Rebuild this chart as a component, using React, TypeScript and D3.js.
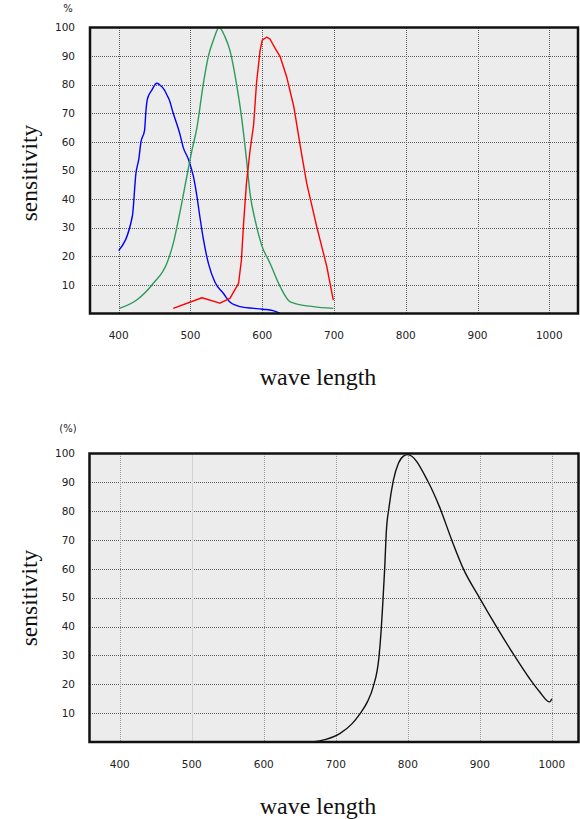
import React from 'react';
import * as d3 from 'd3';

// tick labels
const xTicks = [400, 500, 600, 700, 800, 900, 1000];
const yTicks = [10, 20, 30, 40, 50, 60, 70, 80, 90, 100];

// top chart: blue / green / red sensitivity (wavelength nm, %)
const blueWl = [400, 419, 424, 428, 431, 436, 438, 440, 446, 453, 457, 464, 467, 470, 476, 485, 490, 497, 504, 509, 513, 518, 525, 534, 546, 555, 569, 601, 615, 625];
const blueVal = [22, 34, 49, 54, 60, 64, 71, 75, 78, 80.5, 80, 78, 76.5, 75, 70, 63, 58, 54, 48, 41, 34, 26, 17.5, 11, 7, 4, 2.4, 1.5, 1, 0];

const greenWl = [401, 425, 448, 467, 476, 485, 495, 502, 509, 518, 525, 532, 540, 548, 555, 564, 571, 578, 583, 590, 599, 611, 625, 639, 671, 699];
const greenVal = [1.8, 4.7, 10.5, 17.5, 24.5, 35, 48, 57, 65, 80.5, 90, 95.6, 100, 96.8, 92, 80.5, 69, 54, 42, 32.7, 24, 17.5, 9.4, 4.1, 2.4, 1.8];

const redWl = [476, 516, 541, 555, 567, 571, 574, 578, 583, 588, 592, 597, 600, 606, 611, 618, 625, 634, 644, 654, 662, 676, 690, 699];
const redVal = [1.8, 5.5, 3.6, 5.3, 10.5, 18.7, 31.5, 45.5, 57, 66, 80.5, 92, 95.6, 96.6, 95.9, 92.7, 89.8, 82.8, 72.3, 57, 45.5, 30.3, 16.4, 4.7];

// bottom chart: near-infrared sensitivity
const irWl = [667, 685, 706, 722, 733, 744, 752, 760, 763, 765, 768, 770, 774, 780, 787, 794, 800, 828, 844, 861, 877, 900, 923, 946, 969, 983, 997, 1000];
const irVal = [0, 0.8, 3, 6.2, 9.6, 14, 19.2, 29.6, 38.8, 47, 60.7, 72.3, 81.5, 90.8, 96.6, 99.1, 99.6, 90.3, 81.5, 70, 60.1, 49.8, 40, 30.7, 22, 17.4, 13.9, 15];

const zip = (xs: number[], ys: number[]) => xs.map((x, i) => [x, ys[i]] as [number, number]);

const tickFont = 'DejaVu Sans, Verdana, sans-serif';
const serif = 'Liberation Serif, Times New Roman, serif';
const px = (v: number) => Math.round(v) + 0.5;

type Series = { data: [number, number][]; color: string; smooth: boolean };

function Panel({ top, bottom, left, right, xDomain, unit, unitY, series, light, xLabelY, yTitleY, xTitleY }: {
  top: number; bottom: number; left: number; right: number; xDomain: [number, number];
  unit: string; unitY: number; series: Series[]; light: boolean;
  xLabelY: number; yTitleY: number; xTitleY: number;
}) {
  const x = d3.scaleLinear().domain(xDomain).range([left, right]);
  const y = d3.scaleLinear().domain([0, 100]).range([bottom, top]);
  const makeLine = (smooth: boolean) => d3.line<[number, number]>()
    .x(d => x(d[0]))
    .y(d => y(d[1]))
    .curve(smooth ? d3.curveMonotoneX : d3.curveLinear);

  return (
    <g>
      <rect x={left} y={top} width={right - left} height={bottom - top} fill="#ebeceb" />
      {/* horizontal grid */}
      {yTicks.filter(t => t < 100).map(t => (
        <line key={'h' + t} x1={left} x2={right} y1={px(y(t))} y2={px(y(t))}
          stroke="#5a5a5a" strokeWidth={1} strokeDasharray="1,1" shapeRendering="crispEdges" />
      ))}
      {/* vertical grid */}
      {xTicks.map(t => {
        const solid = light && t === 500;
        return (
          <line key={'v' + t} x1={px(x(t))} x2={px(x(t))} y1={top} y2={bottom}
            stroke={solid ? '#d2d2d2' : light ? '#9a9a9a' : '#5a5a5a'}
            strokeWidth={1} strokeDasharray={solid ? undefined : '1,1'} shapeRendering="crispEdges" />
        );
      })}
      {series.map((s, i) => (
        <path key={i} d={makeLine(s.smooth)(s.data) || ''} fill="none" stroke={s.color}
          strokeWidth={1.4} strokeLinejoin="round" />
      ))}
      <rect x={left} y={top} width={right - left} height={bottom - top} fill="none" stroke="#111" strokeWidth={2.5} />
      {/* y tick labels */}
      {yTicks.map(t => (
        <text key={'yl' + t} x={75} y={y(t)} dy="0.35em" textAnchor="end"
          fontFamily={tickFont} fontSize={10.5} fill="#222">{t}</text>
      ))}
      <text x={68} y={unitY} textAnchor="middle" fontFamily={tickFont} fontSize={10} fill="#222">{unit}</text>
      {/* x tick labels */}
      {xTicks.map(t => (
        <text key={'xl' + t} x={x(t)} y={xLabelY} dy="0.35em" textAnchor="middle"
          fontFamily={tickFont} fontSize={10.5} fill="#222">{t}</text>
      ))}
      <text transform={`translate(29, ${yTitleY}) rotate(-90)`} textAnchor="middle" dy="0.35em"
        fontFamily={serif} fontSize={23.5} fill="#111">sensitivity</text>
      <text x={318} y={xTitleY} textAnchor="middle" dy="0.35em"
        fontFamily={serif} fontSize={24} fill="#111">wave length</text>
    </g>
  );
}

export default function App() {
  return (
    <svg width={580} height={819} style={{ position: 'absolute', left: 0, top: 0, background: '#fff' }}>
      <Panel top={27.5} bottom={313.5} left={90} right={578} xDomain={[360, 1040]}
        unit="%" unitY={12} light={false} xLabelY={335} yTitleY={173} xTitleY={377}
        series={[
          { data: zip(blueWl, blueVal), color: '#0000ff', smooth: true },
          { data: zip(greenWl, greenVal), color: '#2e9a5e', smooth: true },
          { data: zip(redWl, redVal), color: '#ff0000', smooth: false },
        ]} />
      <Panel top={453.5} bottom={742} left={89.5} right={578.5} xDomain={[358, 1037]}
        unit="(%)" unitY={432} light={true} xLabelY={764.5} yTitleY={598} xTitleY={806}
        series={[{ data: zip(irWl, irVal), color: '#111', smooth: true }]} />
    </svg>
  );
}
